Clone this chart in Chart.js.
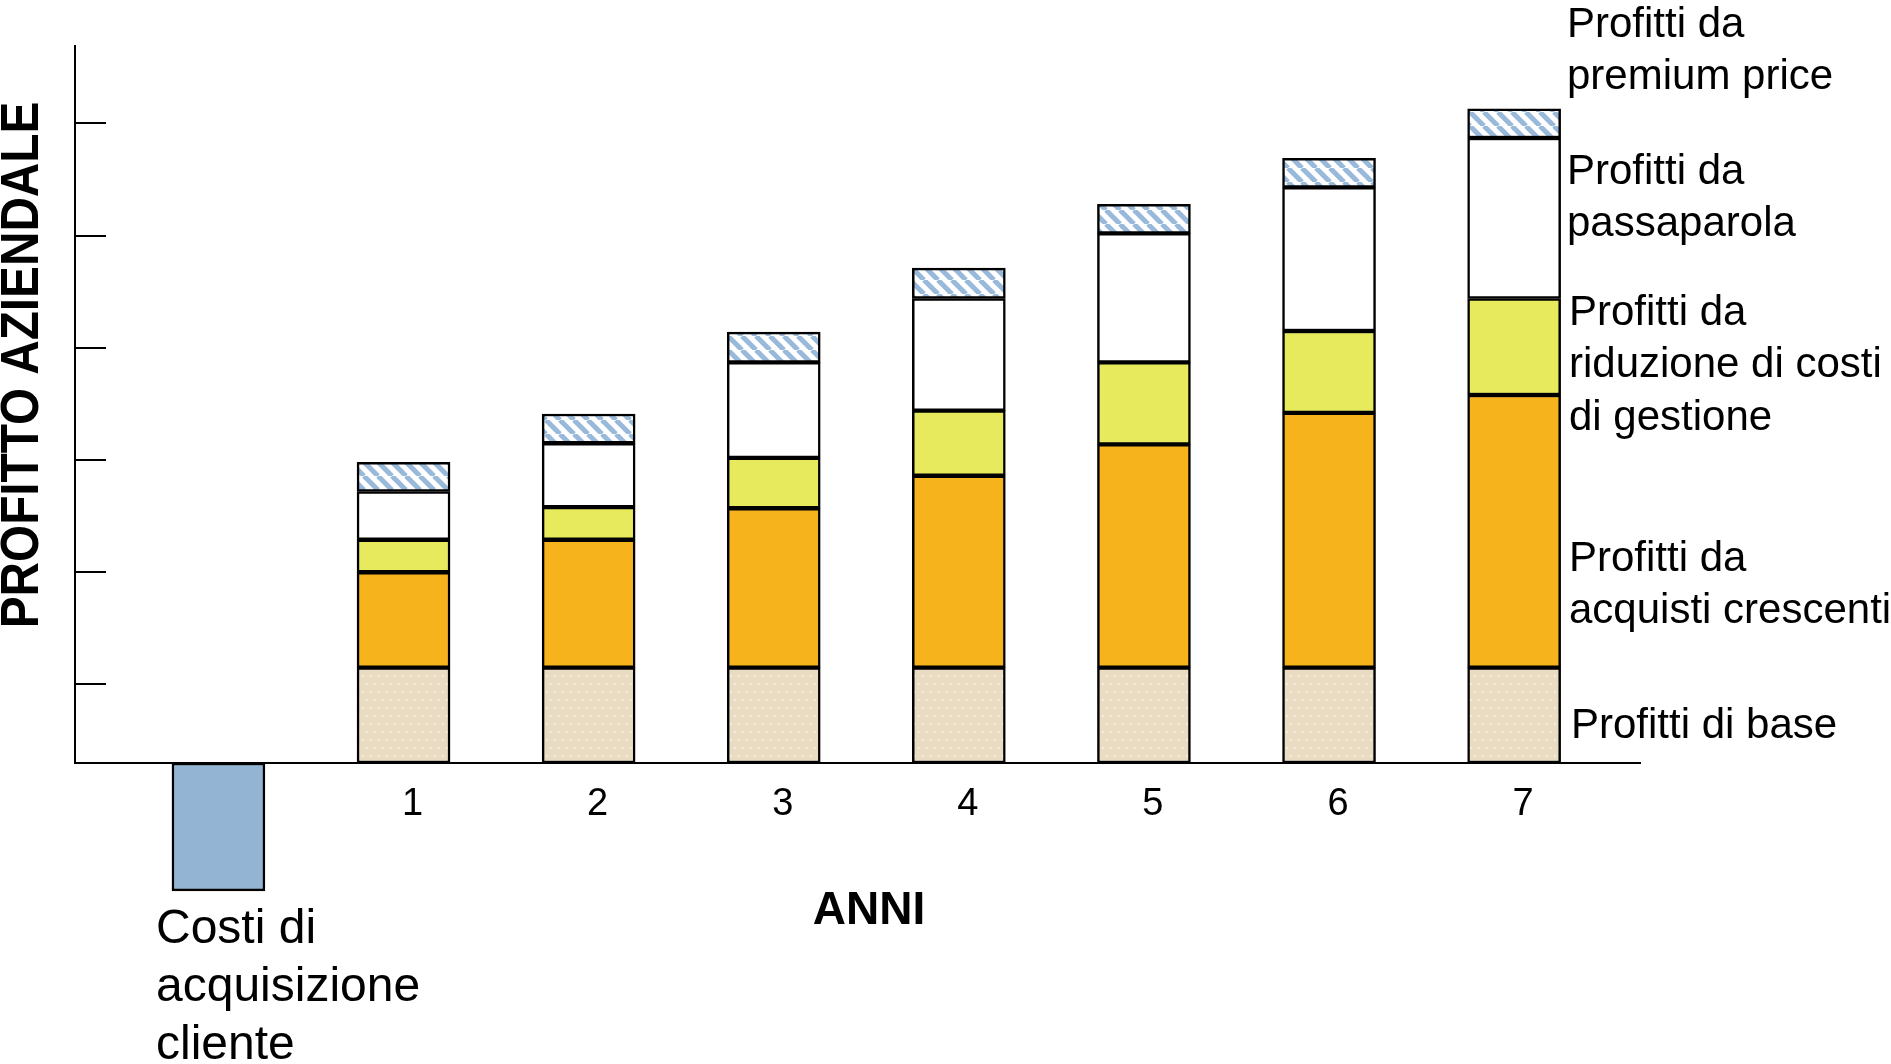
<!DOCTYPE html>
<html>
<head>
<meta charset="utf-8">
<title>Profitto aziendale</title>
<script src="https://cdn.jsdelivr.net/npm/chart.js@4.4.1/dist/chart.umd.min.js"></script>
<style>
  html, body { margin: 0; padding: 0; background: #fff; }
  #wrap { width: 1891px; height: 1064px; }
</style>
</head>
<body>
<div id="wrap"><canvas id="profitChart"></canvas></div>
<script>
const years = [0, 1, 2, 3, 4, 5, 6, 7];
const xTickLabels = ['', '1', '2', '3', '4', '5', '6', '7'];
const yTicks = [7, 17, 27, 37, 47, 57];

const costiAcquisizione   = [-11.4, null, null, null, null, null, null, null];
const profittiBase        = [null, 8.5, 8.5, 8.5, 8.5, 8.5, 8.5, 8.5];
const profittiAcquisti    = [null, 8.5, 11.4, 14.2, 17.1, 19.9, 22.7, 24.3];
const profittiRiduzione   = [null, 2.9, 2.9, 4.5, 5.8, 7.3, 7.3, 8.6];
const profittiPassaparola = [null, 4.3, 5.7, 8.5, 10.0, 11.5, 12.8, 14.3];
const profittiPremium     = [null, 2.6, 2.6, 2.7, 2.7, 2.6, 2.6, 2.6];

const seriesNotes = [
  ['Profitti da', 'premium price'],
  ['Profitti da', 'passaparola'],
  ['Profitti da', 'riduzione di costi', 'di gestione'],
  ['Profitti da', 'acquisti crescenti'],
  ['Profitti di base']
];
const costNote = ['Costi di', 'acquisizione', 'cliente'];
const xTitle = 'ANNI';
const yTitle = 'PROFITTO AZIENDALE';

const FONT = '"Liberation Sans", Arial, sans-serif';

// beige with small white dots
function dotPattern() {
  const c = document.createElement('canvas');
  c.width = 8; c.height = 16;
  const g = c.getContext('2d');
  g.fillStyle = '#e9dcc3';
  g.fillRect(0, 0, 8, 16);
  g.fillStyle = 'rgba(255,255,255,0.9)';
  g.fillRect(2, 3, 1.5, 1.5);
  g.fillRect(6, 11, 1.5, 1.5);
  return g.createPattern(c, 'repeat');
}

// light blue diagonal stripes on white
function hatchPattern() {
  const c = document.createElement('canvas');
  c.width = 14; c.height = 14;
  const g = c.getContext('2d');
  g.fillStyle = '#fff';
  g.fillRect(0, 0, 14, 14);
  g.strokeStyle = '#98b9da';
  g.lineWidth = 5;
  [-14, 0, 14].forEach(k => {
    g.beginPath(); g.moveTo(k, 0); g.lineTo(k + 14, 14); g.stroke();
  });
  return g.createPattern(c, 'repeat');
}

const notesPlugin = {
  id: 'notes',
  afterDraw(chart) {
    const ctx = chart.ctx;
    const area = chart.chartArea;
    const y = chart.scales.y;
    ctx.save();

    // tick marks drawn inside the plot
    ctx.strokeStyle = '#000';
    ctx.lineWidth = 2;
    yTicks.forEach(v => {
      const py = Math.round(y.getPixelForValue(v));
      ctx.beginPath();
      ctx.moveTo(area.left, py);
      ctx.lineTo(area.left + 31, py);
      ctx.stroke();
    });

    ctx.fillStyle = '#000';
    ctx.textAlign = 'left';
    ctx.textBaseline = 'middle';
    ctx.font = '42px ' + FONT;
    const notePos = [[1567, 25], [1567, 172], [1569, 313], [1569, 559], [1571, 726]];
    seriesNotes.forEach((lines, i) => {
      lines.forEach((t, j) => ctx.fillText(t, notePos[i][0], notePos[i][1] + j * 52.5));
    });

    ctx.textBaseline = 'alphabetic';
    ctx.font = '48px ' + FONT;
    costNote.forEach((t, j) => ctx.fillText(t, 156, 943 + j * 58));

    ctx.textAlign = 'center';
    ctx.textBaseline = 'middle';
    ctx.font = 'bold 46px ' + FONT;
    ctx.fillText(xTitle, 869, 911);

    ctx.translate(23, 365);
    ctx.rotate(-Math.PI / 2);
    ctx.scale(0.9, 1);
    ctx.font = 'bold 53px ' + FONT;
    ctx.fillText(yTitle, 0, 0);

    ctx.restore();
  }
};

const ctx = document.getElementById('profitChart').getContext('2d');
new Chart(ctx, {
  type: 'bar',
  data: {
    labels: years,
    datasets: [
      { label: 'Costi di acquisizione cliente', data: costiAcquisizione, backgroundColor: '#93b5d3', clip: false },
      { label: 'Profitti di base', data: profittiBase, backgroundColor: dotPattern() },
      { label: 'Profitti da acquisti crescenti', data: profittiAcquisti, backgroundColor: '#f6b31b' },
      { label: 'Profitti da riduzione di costi di gestione', data: profittiRiduzione, backgroundColor: '#e8ea5d' },
      { label: 'Profitti da passaparola', data: profittiPassaparola, backgroundColor: '#ffffff' },
      { label: 'Profitti da premium price', data: profittiPremium, backgroundColor: hatchPattern() }
    ]
  },
  options: {
    responsive: true,
    maintainAspectRatio: false,
    animation: false,
    layout: { padding: { top: 46, right: 251, bottom: 0, left: 0 } },
    datasets: {
      bar: { barThickness: 93, borderColor: '#000', borderWidth: 2.5, borderSkipped: false }
    },
    plugins: {
      legend: { display: false },
      tooltip: { enabled: false }
    },
    scales: {
      x: {
        type: 'linear',
        stacked: true,
        min: -0.775,
        max: 7.68,
        offset: false,
        grid: { display: false },
        border: { display: true, color: '#000', width: 2 },
        afterBuildTicks: s => { s.ticks = years.slice(1).map(v => ({ value: v })); },
        afterFit: s => { s.height = 301; },
        ticks: {
          autoSkip: false,
          maxRotation: 0,
          padding: 11,
          labelOffset: 9,
          color: '#000',
          font: { family: FONT, size: 38 },
          callback: v => xTickLabels[years.indexOf(v)]
        }
      },
      y: {
        stacked: true,
        min: 0,
        max: 63.9,
        grid: { display: false },
        border: { display: true, color: '#000', width: 2 },
        ticks: { display: false },
        afterFit: s => { s.width = 75; }
      }
    }
  },
  plugins: [notesPlugin]
});
</script>
</body>
</html>
